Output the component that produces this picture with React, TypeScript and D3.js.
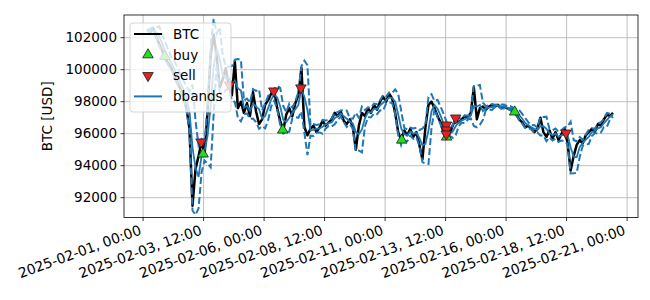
import React from "react";
import * as d3 from "d3";

// BTC price, 3-hourly samples starting 2025-02-01 04:00 UTC
const startTime = "2025-02-01T04:00:00Z";
const stepHours = 3;
const btc = [
  102500, 102300, 102600, 102100, 101600, 101200, 100700, 100400, 100100, 99600,
  99200, 98800, 98300, 97600, 96300, 91500, 93800, 94600, 95500, 94700,
  97500, 100900, 102200, 100800, 98900, 99400, 100100, 99000, 98400, 100500,
  97600, 98000, 97300, 97900, 97100, 98600, 97400, 96600, 96900, 97800,
  98100, 98500, 98700, 97600, 96800, 96200, 97200, 97600, 97100, 97900,
  98400, 100100, 96400, 95900, 96300, 96500, 96100, 96400, 96800, 96500,
  96700, 96900, 97300, 97100, 97400, 96800, 96600, 96900, 96400, 95000,
  96500, 97300, 97100, 97600, 97300, 97800, 97500, 98000, 98300, 98000,
  98500, 98200, 97300, 96100, 95600, 96200, 95900, 96300, 95800, 96100,
  95300, 94400, 96400, 97800, 98000, 97600, 97100, 96700, 96100, 95900,
  96000, 96500, 96900, 96700, 96900, 97100, 97000, 97300, 98900, 96900,
  97600, 97700, 97500, 97700, 97800, 97700, 97800, 97600, 97700, 97600,
  97500, 97400, 97200, 96900, 96700, 96400, 96500, 96300, 96100, 96300,
  97000, 96100, 95800, 96200, 95700, 96100, 95600, 96000, 96300, 95400,
  93700, 94600, 95300, 95600, 95400, 95900, 96100, 96300, 96100, 96600,
  96500, 96900, 97200, 97100, 97300,
];

const buyTimes = [
  "2025-02-01T21:30:00Z", "2025-02-03T11:30:00Z", "2025-02-06T18:30:00Z",
  "2025-02-11T16:30:00Z", "2025-02-13T13:00:00Z", "2025-02-16T08:30:00Z",
];
const buyPrices = [100830, 94730, 96230, 95600, 95790, 97360];

const sellTimes = [
  "2025-02-03T09:30:00Z", "2025-02-04T13:50:00Z", "2025-02-06T09:40:00Z",
  "2025-02-07T12:30:00Z", "2025-02-13T12:50:00Z", "2025-02-13T12:50:00Z",
  "2025-02-13T12:40:00Z", "2025-02-13T22:00:00Z", "2025-02-18T11:20:00Z",
];
const sellPrices = [95480, 99040, 98670, 98860, 96540, 96230, 95980, 96980, 96040];

const xTicks = [
  "2025-02-01T00:00:00Z", "2025-02-03T12:00:00Z", "2025-02-06T00:00:00Z",
  "2025-02-08T12:00:00Z", "2025-02-11T00:00:00Z", "2025-02-13T12:00:00Z",
  "2025-02-16T00:00:00Z", "2025-02-18T12:00:00Z", "2025-02-21T00:00:00Z",
];
const yTicks = [92000, 94000, 96000, 98000, 100000, 102000];

// bollinger settings
const bbWindow = 3;
const bbK = 1.5;

const W = 650;
const H = 300;
const plot = { left: 124, right: 638, top: 15, bottom: 217.5 };
const font = "'DejaVu Sans', sans-serif";
const fs = 13.5;
const blue = "#1f77b4";

export default function App() {
  const t0 = new Date(startTime).getTime();
  const times = btc.map((_, i) => new Date(t0 + i * stepHours * 3600e3));

  const x = d3
    .scaleUtc()
    .domain([new Date("2025-01-31T05:04:00Z"), new Date("2025-02-21T10:48:00Z")])
    .range([plot.left, plot.right]);
  const y = d3.scaleLinear().domain([90762, 103419]).range([plot.bottom, plot.top]);

  const bands = btc.map((_, i) => {
    const w = btc.slice(Math.max(0, i - bbWindow + 1), i + 1);
    const m = d3.mean(w) as number;
    const s = Math.sqrt(d3.mean(w, (v) => (v - m) * (v - m)) as number);
    return { t: times[i], mid: m, up: m + bbK * s, lo: m - bbK * s };
  });

  const priceLine = d3
    .line<number>()
    .x((_, i) => x(times[i]))
    .y((d) => y(d));
  const bandLine = (key: "mid" | "up" | "lo") =>
    d3
      .line<(typeof bands)[number]>()
      .x((d) => x(d.t))
      .y((d) => y(d[key]))(bands) as string;

  const tri = d3.symbol(d3.symbolTriangle, 48)() as string;
  const buyColor = "#22dd22";
  const sellColor = "#e52222";
  const fmt = d3.utcFormat("%Y-%m-%d, %H:%M");
  const rot = 20;
  const rad = (rot * Math.PI) / 180;
  const asc = 10;
  const desc = 2.5;

  const legendItems = ["BTC", "buy", "sell", "bbands"];
  const lg = { x: 130, y: 23, w: 101, h: 89 };

  return (
    <svg
      width={W}
      height={H}
      style={{ position: "absolute", left: 0, top: 0, background: "#fff" }}
      fontFamily={font}
      fontSize={fs}
    >
      <defs>
        <clipPath id="pa">
          <rect x={plot.left} y={plot.top} width={plot.right - plot.left} height={plot.bottom - plot.top} />
        </clipPath>
      </defs>
      {/* grid */}
      <g stroke="#b0b0b0" strokeWidth={0.8}>
        {xTicks.map((t) => (
          <line key={t} x1={x(new Date(t))} x2={x(new Date(t))} y1={plot.top} y2={plot.bottom} />
        ))}
        {yTicks.map((v) => (
          <line key={v} x1={plot.left} x2={plot.right} y1={y(v)} y2={y(v)} />
        ))}
      </g>
      <g clipPath="url(#pa)">
        <path d={priceLine(btc) as string} fill="none" stroke="#000" strokeWidth={2.5} strokeLinejoin="round" />
        <path d={bandLine("mid")} fill="none" stroke={blue} strokeWidth={1.8} />
        <path d={bandLine("up")} fill="none" stroke={blue} strokeWidth={2} strokeDasharray="7 3" />
        <path d={bandLine("lo")} fill="none" stroke={blue} strokeWidth={2} strokeDasharray="7 3" />
        {buyTimes.map((t, i) => (
          <path
            key={"b" + i}
            d={tri}
            transform={`translate(${x(new Date(t))},${y(buyPrices[i])})`}
            fill={buyColor}
            stroke="#1a1a1a"
            strokeWidth={0.8}
          />
        ))}
        {sellTimes.map((t, i) => (
          <path
            key={"s" + i}
            d={tri}
            transform={`translate(${x(new Date(t))},${y(sellPrices[i])}) rotate(180)`}
            fill={sellColor}
            stroke="#1a1a1a"
            strokeWidth={0.8}
          />
        ))}
      </g>
      {/* spines */}
      <rect
        x={plot.left}
        y={plot.top}
        width={plot.right - plot.left}
        height={plot.bottom - plot.top}
        fill="none"
        stroke="#000"
        strokeWidth={0.8}
      />
      {/* y axis */}
      <g>
        {yTicks.map((v) => (
          <g key={v}>
            <line x1={plot.left - 3.5} x2={plot.left} y1={y(v)} y2={y(v)} stroke="#000" strokeWidth={0.8} />
            <text x={plot.left - 7} y={y(v)} dy="0.35em" textAnchor="end" fill="#000">
              {v}
            </text>
          </g>
        ))}
        <text
          transform={`translate(${47},${(plot.top + plot.bottom) / 2}) rotate(-90)`}
          textAnchor="middle"
          dy="0.35em"
          fill="#000"
        >
          BTC [USD]
        </text>
      </g>
      {/* x axis */}
      <g>
        {xTicks.map((t) => {
          const px = x(new Date(t));
          return (
            <g key={t}>
              <line x1={px} x2={px} y1={plot.bottom} y2={plot.bottom + 3.5} stroke="#000" strokeWidth={0.8} />
              <text
                transform={`translate(${px - desc * Math.sin(rad)},${plot.bottom + 7 + asc * Math.cos(rad)}) rotate(${-rot})`}
                textAnchor="end"
                fontSize={13.9}
                fill="#000"
              >
                {fmt(new Date(t))}
              </text>
            </g>
          );
        })}
      </g>
      {/* legend */}
      <g>
        <rect x={lg.x} y={lg.y} width={lg.w} height={lg.h} rx={3} fill="#fff" fillOpacity={0.8} stroke="#cccccc" strokeWidth={0.8} />
        {legendItems.map((name, i) => {
          const cy = lg.y + 11 + i * 20.8;
          return (
            <g key={name}>
              {i === 0 && <line x1={134} x2={162} y1={cy} y2={cy} stroke="#000" strokeWidth={2} />}
              {i === 1 && (
                <path d={tri} transform={`translate(148,${cy})`} fill={buyColor} stroke="#1a1a1a" strokeWidth={0.8} />
              )}
              {i === 2 && (
                <path d={tri} transform={`translate(148,${cy}) rotate(180)`} fill={sellColor} stroke="#1a1a1a" strokeWidth={0.8} />
              )}
              {i === 3 && <line x1={134} x2={162} y1={cy} y2={cy} stroke={blue} strokeWidth={2} />}
              <text x={173} y={cy} dy="0.35em" fill="#000">
                {name}
              </text>
            </g>
          );
        })}
      </g>
    </svg>
  );
}
